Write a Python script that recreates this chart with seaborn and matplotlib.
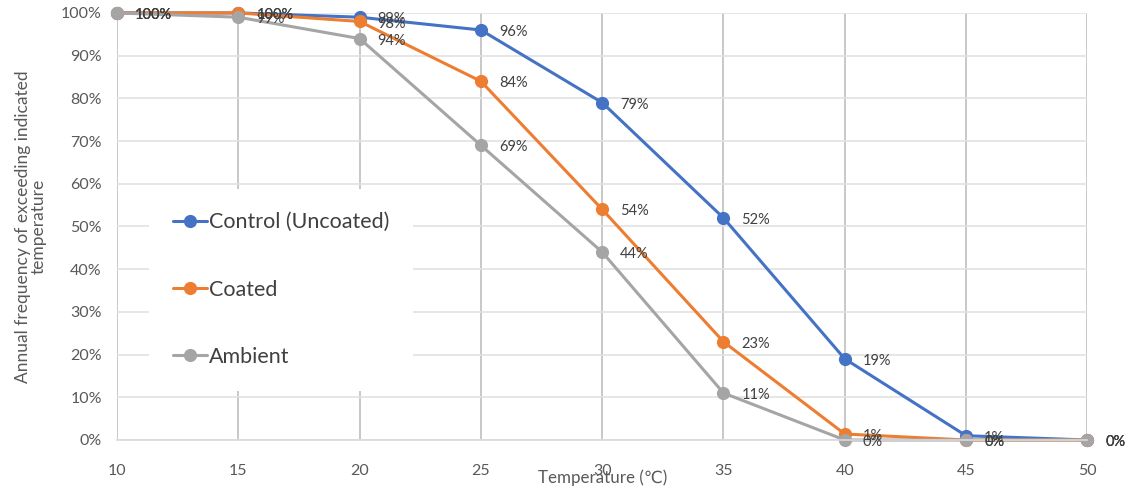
import pandas as pd
import seaborn as sns
import matplotlib.pyplot as plt
from matplotlib.ticker import PercentFormatter

temps = [10, 15, 20, 25, 30, 35, 40, 45, 50]
control = [100, 100, 99, 96, 79, 52, 19, 1, 0]
coated = [100, 100, 98, 84, 54, 23, 1.4, 0, 0]
ambient = [100, 99, 94, 69, 44, 11, 0, 0, 0]
series_names = ['Control (Uncoated)', 'Coated', 'Ambient']
colors = ['#4472C4', '#ED7D31', '#A5A5A5']

rows = []
for name, vals in zip(series_names, [control, coated, ambient]):
    for t, v in zip(temps, vals):
        rows.append({'Temperature': t, 'value': v, 'series': name})
df = pd.DataFrame(rows)

sns.set_style('white')
plt.rcParams['font.family'] = ['Lato', 'DejaVu Sans']

fig = plt.figure(figsize=(11.47, 4.97), dpi=100)
ax = fig.add_axes([0.102, 0.1147, 0.846, 0.8593])

sns.lineplot(data=df, x='Temperature', y='value', hue='series',
             hue_order=series_names, palette=colors, marker='o',
             markersize=9.5, markeredgewidth=0, linewidth=2.2, ax=ax,
             clip_on=False)

for name, vals, c in zip(series_names, [control, coated, ambient], colors):
    for t, v in zip(temps, vals):
        ax.annotate(f'{v:.0f}%', (t, v), xytext=(13, -1.5), textcoords='offset points',
                    ha='left', va='center', fontsize=10.5, color='#404040')

ax.set_xlim(10, 50)
ax.set_ylim(0, 100)
ax.set_xticks(temps)
ax.set_yticks(range(0, 101, 10))
ax.yaxis.set_major_formatter(PercentFormatter(decimals=0))

ax.xaxis.grid(True, color='#bfbfbf', linewidth=1.2)
ax.yaxis.grid(True, color='#e2e2e2', linewidth=1.2)
ax.set_axisbelow(True)
for s in ['top', 'right', 'left']:
    ax.spines[s].set_visible(False)
ax.spines['bottom'].set_color('#d9d9d9')
ax.spines['bottom'].set_linewidth(1.2)

ax.tick_params(axis='x', length=7, color='#bfbfbf', width=1.2, pad=10,
               labelsize=11.5, labelcolor='#595959')
ax.tick_params(axis='y', length=0, pad=11, labelsize=11.5, labelcolor='#595959')

ax.set_xlabel('Temperature (℃)', fontsize=12.2, color='#595959', labelpad=-6)
ax.set_ylabel('Annual frequency of exceeding indicated\ntemperature',
              fontsize=12.5, color='#595959', labelpad=10, linespacing=1.0)

leg = ax.legend(loc='center left', bbox_to_anchor=(0.022, 0.352), fontsize=15.5,
                frameon=True, facecolor='white', edgecolor='none', framealpha=1,
                labelspacing=2.2, handlelength=1.6, handletextpad=0.1,
                borderpad=1.1, fancybox=False, labelcolor='#404040')

fig.savefig('out.png', dpi=100)
